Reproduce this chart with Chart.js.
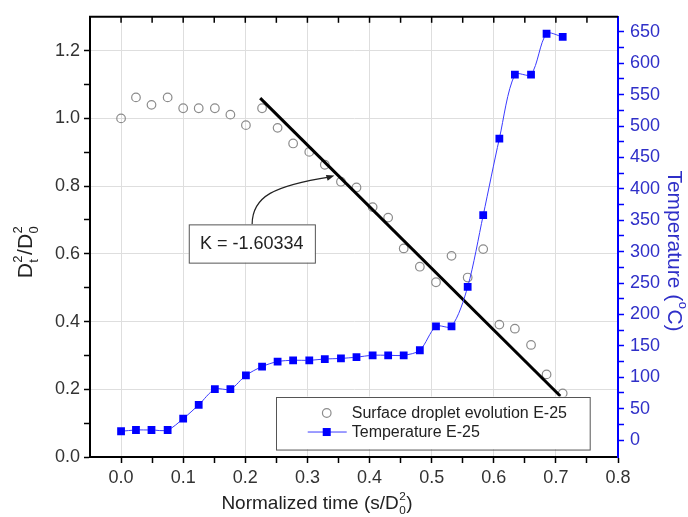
<!DOCTYPE html>
<html><head><meta charset="utf-8">
<script src="https://cdn.jsdelivr.net/npm/chart.js@4.4.0/dist/chart.umd.min.js"></script>
<style>html,body{margin:0;padding:0;background:#fff;}#wrap{width:688px;height:517px;position:relative;}</style>
</head><body><div id="wrap"><canvas id="c" width="688" height="517"></canvas></div>
<script>
// ---- data ----
const timeValues = [0.000,0.024,0.049,0.075,0.100,0.125,0.151,0.176,0.201,0.227,0.252,0.277,0.303,0.328,0.354,0.379,0.405,0.430,0.455,0.481,0.507,0.532,0.558,0.583,0.609,0.634,0.660,0.685,0.711];
const dropletRatio = [1.000,1.062,1.040,1.062,1.030,1.030,1.030,1.011,0.980,1.030,0.972,0.926,0.901,0.863,0.813,0.796,0.738,0.707,0.616,0.562,0.516,0.594,0.530,0.614,0.391,0.379,0.331,0.244,0.188];
const temperatureC = [14,16,16,16,34,56,81,81,103,117,125,127,127,129,130,132,135,135,135,143,181,181,244,358,480,582,582,647,642];
const fitLineX = [0.224, 0.707];
const fitLineY = [1.060, 0.180];
const fitSlopeLabel = 'K = -1.60334';
const xTickValues = [0,0.05,0.1,0.15,0.2,0.25,0.3,0.35,0.4,0.45,0.5,0.55,0.6,0.65,0.7,0.75,0.8];
const xTickLabels = ['0.0','','0.1','','0.2','','0.3','','0.4','','0.5','','0.6','','0.7','','0.8'];
const yTickValues = [0,0.1,0.2,0.3,0.4,0.5,0.6,0.7,0.8,0.9,1.0,1.1,1.2];
const yTickLabels = ['0.0','','0.2','','0.4','','0.6','','0.8','','1.0','','1.2'];
const y2TickValues = [0,25,50,75,100,125,150,175,200,225,250,275,300,325,350,375,400,425,450,475,500,525,550,575,600,625,650];
const y2TickLabels = ['0','','50','','100','','150','','200','','250','','300','','350','','400','','450','','500','','550','','600','','650'];
const seriesNames = ['Surface droplet evolution E-25','Temperature E-25'];

const FONT = "'Liberation Sans', Arial, Helvetica, sans-serif";
const BLUE = '#0000ff';
const BLUE_TXT = '#2f2fc8';

function richWidth(ctx, parts, S){
  let w = 0; const s = S*0.62;
  parts.forEach(p => {
    if (p.t !== undefined){ ctx.font = S+'px '+FONT; w += ctx.measureText(p.t).width; }
    else { ctx.font = s+'px '+FONT; w += Math.max(ctx.measureText(p.sub||'').width, ctx.measureText(p.sup||'').width) + 1; }
  });
  return w;
}
function drawRich(ctx, parts, S, x, y){
  const s = S*0.62; let cx = x;
  ctx.textBaseline = 'alphabetic'; ctx.textAlign = 'left';
  parts.forEach(p => {
    if (p.t !== undefined){ ctx.font = S+'px '+FONT; ctx.fillText(p.t, cx, y); cx += ctx.measureText(p.t).width; }
    else {
      ctx.font = s+'px '+FONT;
      if (p.sup) ctx.fillText(p.sup, cx+0.5, y - S*0.5);
      if (p.sub) ctx.fillText(p.sub, cx+0.5, y + S*0.28);
      cx += Math.max(ctx.measureText(p.sub||'').width, ctx.measureText(p.sup||'').width) + 1;
    }
  });
}

const isLabelled = (vals, labels, v) => { const i = vals.findIndex(t => Math.abs(t - v) < 1e-9); return i >= 0 && labels[i] !== ''; };

const decor = {
  id: 'decor',
  afterDraw(chart){
    const {ctx, chartArea: a, scales: {x, y, y2}} = chart;
    ctx.save();
    ctx.strokeStyle = '#000'; ctx.lineWidth = 2;
    ctx.beginPath(); ctx.moveTo(a.left-1, a.top); ctx.lineTo(a.right, a.top); ctx.stroke();
    ctx.lineWidth = 1.5;
    xTickValues.forEach(v => { const px = x.getPixelForValue(v); if (px > a.left+1 && px < a.right-1){ ctx.beginPath(); ctx.moveTo(px, a.top); ctx.lineTo(px, a.top+6); ctx.stroke(); } });

    const bx0 = x.getPixelForValue(0.109), bx1 = x.getPixelForValue(0.312);
    const by0 = y.getPixelForValue(0.687), by1 = y.getPixelForValue(0.574);
    const sx = x.getPixelForValue(0.211), sy = by0;
    const ex = x.getPixelForValue(0.3435), ey = y.getPixelForValue(0.831);
    ctx.strokeStyle = '#222'; ctx.lineWidth = 1.2;
    ctx.beginPath(); ctx.moveTo(sx, sy);
    ctx.bezierCurveTo(sx, sy-28, sx+22, ey+10, ex-4, ey+1.2); ctx.stroke();
    const ang = Math.atan2(-11.7, 38);
    ctx.fillStyle = '#222';
    ctx.beginPath(); ctx.moveTo(ex, ey);
    ctx.lineTo(ex - 8*Math.cos(ang) + 3*Math.sin(ang), ey - 8*Math.sin(ang) - 3*Math.cos(ang));
    ctx.lineTo(ex - 8*Math.cos(ang) - 3*Math.sin(ang), ey - 8*Math.sin(ang) + 3*Math.cos(ang));
    ctx.closePath(); ctx.fill();
    ctx.fillStyle = '#fff'; ctx.fillRect(bx0, by0, bx1-bx0, by1-by0);
    ctx.strokeStyle = '#555'; ctx.lineWidth = 1; ctx.strokeRect(bx0+0.5, by0+0.5, bx1-bx0, by1-by0);
    ctx.fillStyle = '#222'; ctx.font = '18px '+FONT; ctx.textAlign = 'center'; ctx.textBaseline = 'middle';
    ctx.fillText(fitSlopeLabel, (bx0+bx1)/2, (by0+by1)/2 + 1);

    const lx0 = x.getPixelForValue(0.249), lx1 = x.getPixelForValue(0.754);
    const ly0 = y.getPixelForValue(0.1786), ly1 = y.getPixelForValue(0.0234);
    ctx.fillStyle = '#fff'; ctx.fillRect(lx0, ly0, lx1-lx0, ly1-ly0);
    ctx.strokeStyle = '#555'; ctx.lineWidth = 1; ctx.strokeRect(Math.round(lx0)+0.5, Math.round(ly0)+0.5, lx1-lx0, ly1-ly0);
    const symX = lx0 + 51, txtX = lx0 + 76, r1 = ly0 + 16.5, r2 = ly0 + 35.5;
    ctx.strokeStyle = '#8c8c8c'; ctx.lineWidth = 1.2;
    ctx.beginPath(); ctx.arc(symX, r1, 4.3, 0, Math.PI*2); ctx.stroke();
    ctx.strokeStyle = '#3a3aff'; ctx.lineWidth = 1;
    ctx.beginPath(); ctx.moveTo(symX-19, r2); ctx.lineTo(symX+20, r2); ctx.stroke();
    ctx.fillStyle = BLUE; ctx.fillRect(symX-4, r2-4, 8, 8);
    ctx.fillStyle = '#222'; ctx.font = '16px '+FONT; ctx.textAlign = 'left'; ctx.textBaseline = 'middle';
    ctx.fillText(seriesNames[0], txtX, r1+1);
    ctx.fillText(seriesNames[1], txtX, r2+1);

    ctx.fillStyle = '#222';
    const bParts = [{t:'Normalized time (s/D'},{sub:'0',sup:'2'},{t:')'}];
    const bw = richWidth(ctx, bParts, 19);
    drawRich(ctx, bParts, 19, 317 - bw/2, 509);

    const lParts = [{t:'D'},{sub:'t',sup:'2'},{t:'/D'},{sub:'0',sup:'2'}];
    const lw = richWidth(ctx, lParts, 21);
    ctx.save(); ctx.translate(32, 252); ctx.rotate(-Math.PI/2);
    drawRich(ctx, lParts, 21, -lw/2, 0); ctx.restore();

    const rParts = [{t:'Temperature ('},{sup:'o'},{t:'C)'}];
    ctx.fillStyle = BLUE_TXT;
    const rw = richWidth(ctx, rParts, 21);
    ctx.save(); ctx.translate(668, 251); ctx.rotate(Math.PI/2);
    drawRich(ctx, rParts, 21, -rw/2, 0); ctx.restore();
    ctx.restore();
  }
};

new Chart(document.getElementById('c'), {
  type: 'line',
  data: { datasets: [
    { label: seriesNames[1], data: timeValues.map((t,i)=>({x:t, y:temperatureC[i]})), yAxisID: 'y2',
      borderColor: '#3a3aff', borderWidth: 1, backgroundColor: BLUE, pointBackgroundColor: BLUE,
      pointStyle: 'rect', pointRadius: 5.5, pointBorderWidth: 0, tension: 0.3, order: 1 },
    { label: 'fit', data: fitLineX.map((t,i)=>({x:t, y:fitLineY[i]})), yAxisID: 'y',
      borderColor: '#000', borderWidth: 3, pointRadius: 0, order: 2 },
    { label: seriesNames[0], data: timeValues.map((t,i)=>({x:t, y:dropletRatio[i]})), yAxisID: 'y',
      showLine: false, pointStyle: 'circle', pointRadius: 4.3, borderColor: '#8c8c8c', pointBorderColor: '#8c8c8c',
      backgroundColor: 'rgba(0,0,0,0)', pointBackgroundColor: 'rgba(0,0,0,0)', pointBorderWidth: 1.2, order: 3 }
  ]},
  options: {
    responsive: false, animation: false, devicePixelRatio: 1,
    layout: { padding: { top: 12, left: 0, right: 0, bottom: 0 } },
    plugins: { legend: { display: false }, tooltip: { enabled: false } },
    scales: {
      x: { type: 'linear', position: 'bottom', min: -0.05, max: 0.8,
        afterBuildTicks: s => { s.ticks = xTickValues.map(v => ({value: v})); },
        afterFit: s => { s.height = 60; },
        ticks: { callback: (v) => { const i = xTickValues.findIndex(t => Math.abs(t-v) < 1e-9); return i >= 0 ? xTickLabels[i] : ''; },
          font: { family: FONT, size: 18 }, color: '#333', padding: 4, maxRotation: 0, autoSkip: false },
        grid: { color: c => (c.tick && isLabelled(xTickValues, xTickLabels, c.tick.value)) ? '#dedede' : 'rgba(0,0,0,0)',
          tickColor: '#000', tickLength: 6, tickWidth: 1.5, lineWidth: 1 },
        border: { color: '#000', width: 2 } },
      y: { type: 'linear', position: 'left', min: 0, max: 1.3,
        afterBuildTicks: s => { s.ticks = yTickValues.map(v => ({value: v})); },
        afterFit: s => { s.width = 90; },
        ticks: { callback: (v) => { const i = yTickValues.findIndex(t => Math.abs(t-v) < 1e-9); return i >= 0 ? yTickLabels[i] : ''; },
          font: { family: FONT, size: 18 }, color: '#333', padding: 4, autoSkip: false },
        grid: { color: c => (c.tick && isLabelled(yTickValues, yTickLabels, c.tick.value)) ? '#dedede' : 'rgba(0,0,0,0)',
          tickColor: '#000', tickLength: 6, tickWidth: 1.5, lineWidth: 1 },
        border: { color: '#000', width: 2 } },
      y2: { type: 'linear', position: 'right', min: -27, max: 674,
        afterBuildTicks: s => { s.ticks = y2TickValues.map(v => ({value: v})); },
        afterFit: s => { s.width = 70; },
        ticks: { callback: (v) => { const i = y2TickValues.findIndex(t => Math.abs(t-v) < 1e-9); return i >= 0 ? y2TickLabels[i] : ''; },
          font: { family: FONT, size: 18 }, color: BLUE_TXT, padding: 6, autoSkip: false },
        grid: { drawOnChartArea: false, tickColor: BLUE, tickLength: 6, tickWidth: 1.5 },
        border: { color: BLUE, width: 2 } }
    }
  },
  plugins: [decor]
});
</script></body></html>
